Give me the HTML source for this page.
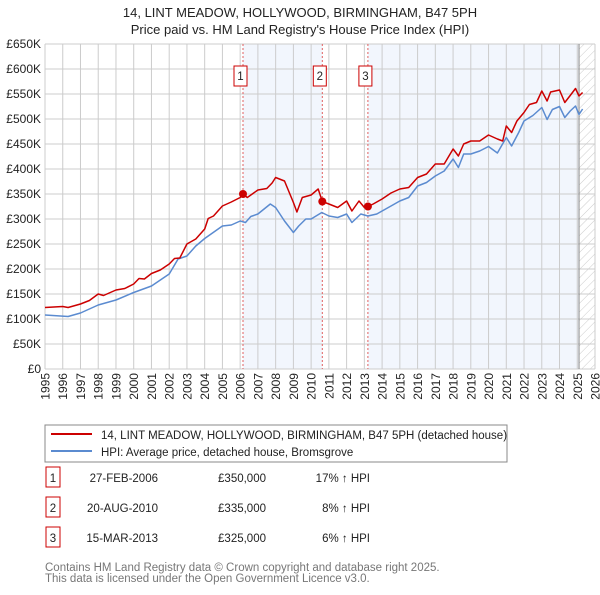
<!DOCTYPE html>
<html><head><meta charset="utf-8">
<style>
body{margin:0;background:#fff;font-family:"Liberation Sans",sans-serif;}
svg text{font-family:"Liberation Sans",sans-serif;}
</style></head>
<body>
<svg id="c" width="600" height="590" viewBox="0 0 600 590" xmlns="http://www.w3.org/2000/svg">
<defs>
<pattern id="hatch" width="6" height="6" patternUnits="userSpaceOnUse" patternTransform="rotate(45)">
<line x1="0" y1="0" x2="0" y2="6" stroke="#ccc" stroke-width="1"/>
</pattern>
</defs>
<text x="300" y="17" text-anchor="middle" font-size="13" fill="#222">14, LINT MEADOW, HOLLYWOOD, BIRMINGHAM, B47 5PH</text>
<text x="300" y="34" text-anchor="middle" font-size="13" fill="#222">Price paid vs. HM Land Registry's House Price Index (HPI)</text>
<g id="plot"></g>
<rect x="45" y="425" width="462" height="37" fill="#fff" stroke="#888"/>
<line x1="51" y1="434" x2="92" y2="434" stroke="#cc0000" stroke-width="2"/>
<text x="101" y="439" font-size="11.5" fill="#222">14, LINT MEADOW, HOLLYWOOD, BIRMINGHAM, B47 5PH (detached house)</text>
<line x1="51" y1="451" x2="92" y2="451" stroke="#5b8bd0" stroke-width="2"/>
<text x="101" y="456" font-size="11.5" fill="#222">HPI: Average price, detached house, Bromsgrove</text>
<g id="table" font-size="11.5" fill="#222"></g>
<text x="45" y="571" font-size="11.5" fill="#777">Contains HM Land Registry data © Crown copyright and database right 2025.</text>
<text x="45" y="582" font-size="11.5" fill="#777">This data is licensed under the Open Government Licence v3.0.</text>
</svg>
<script>
const yTicks=[0,50,100,150,200,250,300,350,400,450,500,550,600,650];
const xYears=[1995,1996,1997,1998,1999,2000,2001,2002,2003,2004,2005,2006,2007,2008,2009,2010,2011,2012,2013,2014,2015,2016,2017,2018,2019,2020,2021,2022,2023,2024,2025,2026];
const redT=[1995.0,1996.0,1996.3,1997.0,1997.5,1998.0,1998.3,1999.0,1999.5,2000.0,2000.3,2000.6,2001.0,2001.5,2002.0,2002.3,2002.6,2003.0,2003.5,2004.0,2004.2,2004.5,2005.0,2005.5,2006.0,2006.16,2006.4,2007.0,2007.5,2007.8,2008.0,2008.5,2009.0,2009.2,2009.5,2010.0,2010.4,2010.63,2011.0,2011.5,2012.0,2012.3,2012.7,2013.0,2013.2,2013.5,2014.0,2014.5,2015.0,2015.5,2016.0,2016.5,2017.0,2017.5,2018.0,2018.3,2018.6,2019.0,2019.5,2020.0,2020.5,2020.8,2021.0,2021.3,2021.6,2022.0,2022.3,2022.7,2023.0,2023.3,2023.5,2024.0,2024.3,2024.6,2024.9,2025.1,2025.3];
const redV=[123,125,123,130,137,150,147,158,161,170,181,180,191,198,210,221,222,250,260,280,301,306,326,334,343,350,343,358,361,372,383,376,333,314,343,348,360,335,330,323,336,316,336,323,325,330,340,352,360,363,383,390,410,410,440,426,450,456,456,468,460,456,486,473,496,513,529,533,556,536,554,558,533,547,561,546,553];
const blueT=[1995,1996.3,1997,1998,1999,2000,2001,2002,2002.5,2003,2003.5,2004,2005,2005.5,2006,2006.3,2006.6,2007,2007.7,2008,2008.5,2009,2009.3,2009.7,2010,2010.6,2011,2011.5,2012,2012.3,2012.8,2013.2,2013.7,2014,2014.5,2015,2015.5,2016,2016.5,2017,2017.5,2018,2018.3,2018.6,2019,2019.5,2020,2020.5,2021,2021.3,2021.7,2022,2022.5,2023,2023.3,2023.6,2024,2024.3,2024.6,2024.9,2025.1,2025.3];
const blueV=[108,105,112,128,138,153,166,190,220,226,246,261,286,288,296,293,305,310,330,323,296,273,286,300,300,313,306,303,310,293,310,306,310,316,326,336,343,366,373,386,396,420,403,430,430,436,445,432,463,446,473,496,507,523,499,519,525,503,516,526,509,520];
const saleT=[2006.16,2010.63,2013.2];
const saleV=[350,335,325];
const saleLabels=["1","2","3"];
const saleDates=["27-FEB-2006","20-AUG-2010","15-MAR-2013"];
const salePrices=["£350,000","£335,000","£325,000"];
const saleHpi=["17% ↑ HPI","8% ↑ HPI","6% ↑ HPI"];

const X0=45,X1=595,Y0=369,Y1=44;
const xs=t=>X0+(t-1995)/(2026-1995)*(X1-X0);
const ys=v=>Y0-v/650*(Y0-Y1);
const NS="http://www.w3.org/2000/svg";
const plot=document.getElementById('plot');
function mk(tag,attrs,parent){const e=document.createElementNS(NS,tag);for(const k in attrs)e.setAttribute(k,attrs[k]);(parent||plot).appendChild(e);return e;}

let r=mk('rect',{x:X0,y:Y1,width:X1-X0,height:Y0-Y1,fill:'#fff'});


r=mk('rect',{x:xs(saleT[0]),y:Y1,width:xs(saleT[1])-xs(saleT[0]),height:Y0-Y1,fill:'#f2f6fd'});


r=mk('rect',{x:xs(saleT[2]),y:Y1,width:xs(2025.1)-xs(saleT[2]),height:Y0-Y1,fill:'#f2f6fd'});


r=mk('rect',{x:xs(2025.1),y:Y1,width:X1-xs(2025.1),height:Y0-Y1,fill:'url(#hatch)'});



yTicks.forEach(v=>{
 let l=mk('line',{x1:X0,x2:X1,y1:ys(v),y2:ys(v),stroke:'#ccc','stroke-width':1});
 
 
 let t=mk('text',{x:X0-4,y:ys(v)+4,'text-anchor':'end','font-size':12,fill:'#222'});
 t.textContent=v===0?'£0':'£'+v+'K';
 
 
});
xYears.forEach(y=>{
 let l=mk('line',{x1:xs(y),x2:xs(y),y1:Y1,y2:Y0,stroke:'#ccc','stroke-width':1});
 
 
 const tx=xs(y)+4.5, ty=Y0+4;
 let t=mk('text',{x:tx,y:ty,'text-anchor':'end','font-size':12,fill:'#222',transform:'rotate(-90 '+tx+' '+ty+')'});
 t.textContent=y;
 
 
});
let el=mk('line',{x1:xs(2025.1),x2:xs(2025.1),y1:Y1,y2:Y0,stroke:'#888','stroke-width':1});



saleT.forEach((s,i)=>{
 let l=mk('line',{x1:xs(s),x2:xs(s),y1:Y1,y2:Y0,stroke:'#e06060','stroke-width':1,'stroke-dasharray':'2,2'});
 
 
 let b=mk('rect',{x:xs(s)-9,y:66,width:13,height:20,fill:'#fff',stroke:'#cc0000'});
 
 
 let t=mk('text',{x:xs(s)-2.5,y:80,'text-anchor':'middle','font-size':11.5,fill:'#222'});
 t.textContent=saleLabels[i];
 
 
});
function path(T,V,color,name){
 const d=T.map((t,i)=>(i?'L':'M')+xs(t).toFixed(1)+','+ys(V[i]).toFixed(1)).join('');
 const p=mk('path',{d:d,fill:'none',stroke:color,'stroke-width':1.5,'stroke-linejoin':'round'});
 
 
}
path(blueT,blueV,'#5b8bd0','hpi-line');
path(redT,redV,'#cc0000','property-line');
saleT.forEach((s,i)=>{
 const c=mk('circle',{cx:xs(s),cy:ys(saleV[i]),r:4,fill:'#cc0000'});
 
 
});

const tb=document.getElementById('table');
saleT.forEach((s,i)=>{
 const y=475+i*30;
 let b=mk('rect',{x:46,y:y-20+12,width:14,height:20,fill:'#fff',stroke:'#cc0000'},tb);
 
 
 const cells=[[53,'middle',saleLabels[i],'table-row-number'],[158,'end',saleDates[i],'table-date'],[266,'end',salePrices[i],'table-price'],[370,'end',saleHpi[i],'table-hpi-change']];
 cells.forEach(c=>{
  let t=mk('text',{x:c[0],y:y+7,'text-anchor':c[1]},tb);
  t.textContent=c[2];
  
  
 });
});
</script>
</body></html>
